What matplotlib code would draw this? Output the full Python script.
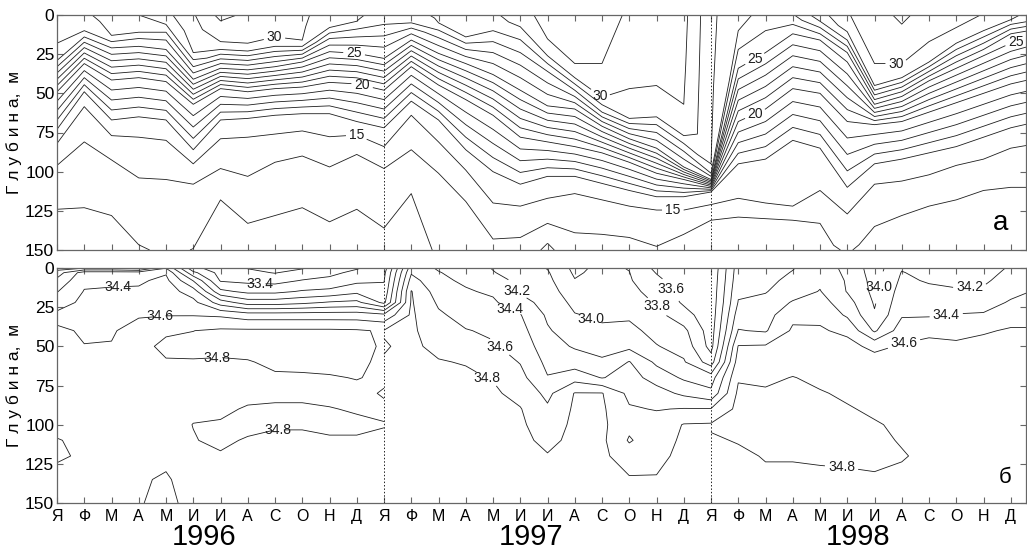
import numpy as np
import matplotlib
matplotlib.use('Agg')
import matplotlib.pyplot as plt
from matplotlib import font_manager

narrow = 'Liberation Sans Narrow'
have_narrow = any(f.name == narrow for f in font_manager.fontManager.ttflist)
plt.rcParams['font.family'] = ['Liberation Sans', 'DejaVu Sans']
text_family = [narrow, 'Liberation Sans'] if have_narrow else ['Liberation Sans']

month_letters = ['Я', 'Ф', 'М', 'А', 'М', 'И', 'И', 'А', 'С', 'О', 'Н', 'Д']
years = ['1996', '1997', '1998']

# ---- panel a: temperature, read as isotherm depths / node values per month ----
months = list(range(37))   # 0 = Jan 1996 ... 36 = Jan 1999
temp_surface = [27.0, 26.8, 27.5, 28.0, 28.7, 29.9, 31.3, 30.8, 30.7, 30.15, 29.6, 29.2, 28.5,
                28.6, 29.2, 29.4, 29.8, 30.6, 31.4, 31.6, 31.3, 30.9, 30.8, 30.3, 28.2,
                27.3, 26.7, 26.9, 28.6, 29.9, 30.8, 31.1, 30.8, 30.4, 29.95, 29.2, 28.6]
u1_depth = [6, 3, 5, 5, 6, 12, 4, 9, 7, 8, 4, 2, 3, 2, 2, 8, 5, 4, 16, 32, 33, 25, 25, 30, 50,
            10, 5, 3, 4, 8, 31, 7, 17, 8, 3, 3, 3]
u1_temp = [26.7, 26.6, 27.3, 27.6, 28.0, 29.5, 30.98, 30.4, 30.4, 30.1, 29.3, 29.1, 28.3,
           28.4, 29.1, 29.3, 29.6, 30.3, 30.98, 30.98, 30.98, 30.5, 30.4, 30.15, 28.1,
           27.0, 26.5, 26.5, 28.0, 29.5, 30.0, 30.98, 30.0, 30.0, 29.8, 29.0, 28.0]
u2_depth = [12, 6, 13, 11, 11, 24, 17, 18, 14, 16, 8, 4, 6, 5, 5, 14, 10, 7.5, 26, 40, 52.5, 47,
            45, 57, 95, 16, 10, 6, 8, 16, 45, 31, 30, 18, 10, 6, 6]
u2_temp = [26.4, 26.3, 27.0, 27.0, 27.0, 29.0, 30.0, 30.0, 30.0, 30.0, 29.0, 29.0, 28.0,
           28.0, 29.0, 29.0, 29.0, 30.0, 30.0, 30.0, 30.0, 30.0, 30.0, 30.0, 28.0,
           26.5, 26.0, 26.0, 27.0, 28.0, 29.0, 30.0, 29.0, 29.0, 29.0, 28.0, 27.0]
u3_depth = [18, 10, 17, 15, 16, 33, 22, 23, 20, 20, 15, 14, 17, 10, 12, 22, 24, 24, 36, 48, 62,
            66, 65, 77, 101, 22, 16, 9, 12, 24, 51, 40, 36, 26, 18, 12, 9]
u3_temp = [26.0, 26.0, 26.0, 26.0, 26.0, 27.0, 29.0, 29.0, 29.0, 29.0, 27.0, 27.0, 26.5,
           26.5, 27.5, 27.0, 27.0, 28.0, 28.0, 28.0, 28.0, 29.0, 29.0, 29.0, 27.0,
           26.0, 25.5, 25.5, 26.0, 26.0, 27.0, 29.0, 27.0, 27.0, 27.0, 26.0, 26.0]
iso25_depth = [29, 14, 21, 20, 22, 41, 34, 35, 33, 30, 23.4, 24.5, 27.7, 16, 24.5, 31, 38, 48,
               58, 60, 71, 79, 85, 97, 105, 34, 24, 12, 16, 30, 57, 52, 42, 34, 26, 18, 13]
iso20_depth = [49, 31, 41.5, 40, 42.5, 57, 47, 49, 47, 46, 43, 44, 48, 33, 44.7, 54, 64, 78,
               81, 84, 88, 94, 101, 105, 109.5, 68, 60, 47, 50, 68, 70, 68, 62, 56, 50, 44, 40]
iso16_depth = [73, 49, 67, 65, 67, 86, 67, 66, 64, 63, 63, 68, 72, 55, 67, 86, 100, 108, 103,
               103, 107.5, 112, 116, 116, 113, 95, 92, 80, 85, 110, 95, 92, 88, 84, 78, 72, 68]
iso15_depth = [82, 58.5, 77, 78, 80, 95, 79, 78, 76, 74, 77.7, 76.6, 84, 64, 81, 99, 120, 122,
               117, 114, 118, 122, 124.5, 124.5, 121, 117, 120, 122, 112, 127, 108, 106, 102,
               96, 92, 85, 82]
deep1_depth = [96, 81, 92.5, 104, 105, 108, 98, 103, 94, 90, 97, 89, 98, 86, 101, 119, 143, 142,
               133, 139, 140, 142, 146, 140, 131, 129, 130, 131, 133, 145, 135, 128, 122, 118,
               112, 110, 110]
deep1_temp = [14.0, 14.0, 14.0, 14.0, 14.0, 14.0, 14.0, 14.0, 14.0, 14.0, 14.0, 14.0, 14.0,
              14.0, 14.0, 14.0, 14.0, 14.0, 14.0, 14.0, 14.0, 14.0, 14.05, 14.0, 14.0,
              14.0, 14.0, 14.0, 14.0, 14.2, 14.0, 14.0, 14.0, 14.0, 14.0, 14.0, 14.0]
deep2_depth = [124, 123, 128, 140, 130, 130, 118, 133, 128, 123, 132, 124, 136, 114, 130, 140,
               147, 147, 146, 145, 146, 147, 148, 146, 142, 142, 142, 142, 146, 148, 145, 142,
               140, 138, 135, 135, 135]
deep2_temp = [13.0, 13.0, 13.0, 13.2, 13.5, 13.4, 13.0, 13.0, 13.0, 13.0, 13.0, 13.0, 13.0,
              13.0, 13.5, 13.6, 13.9, 13.6, 12.99, 13.5, 13.7, 13.8, 13.99, 13.8, 13.75,
              13.7, 13.7, 13.7, 13.85, 14.15, 13.8, 13.7, 13.6, 13.6, 13.5, 13.5, 13.5]
temp_150m = [12.3, 12.3, 12.4, 12.9, 13.15, 12.98, 12.5, 12.6, 12.5, 12.4, 12.6, 12.4, 12.6,
             12.0, 13.3, 13.4, 13.7, 13.3, 12.9, 13.3, 13.4, 13.5, 13.95, 13.6, 13.6,
             13.6, 13.6, 13.6, 13.7, 14.1, 13.6, 13.5, 13.4, 13.4, 13.3, 13.3, 13.3]

temp_levels = list(range(13, 32))
temp_labeled = [15, 20, 25, 30]
temp_label_pos = [(7.93, 10.6), (19.9, 52), (30.8, 29.8), (10.9, 25.5), (25.7, 30.8),
                  (35.15, 15.5), (11.2, 44.7), (25.8, 70), (11.0, 76.6), (22.6, 125.5)]

# ---- panel б: salinity at fixed depths; each year drawn on its own grid ----
sal_depth = [0, 3, 8, 15, 22, 30, 40, 50, 60, 70, 80, 90, 100, 110, 120, 135, 150]
sal_month = [0, 1, 2, 3, 4, 5, 6, 7, 8, 9, 10, 11, 12,
             12, 13, 14, 15, 16, 17, 18, 19, 20, 21, 22, 23, 24,
             24, 25, 26, 27, 28, 29, 30, 31, 32, 33, 34, 35, 36]
sal_0m = [33.7, 33.79, 33.79, 33.7, 34.19, 33.45, 33.3, 33.19, 33.1, 33.18, 33.3, 33.38, 33.5,
          33.5, 34.5, 34.38, 34.3, 34.19, 34.1, 33.99, 33.75, 33.85, 33.79, 33.55, 33.45, 33.42,
          33.42, 34.1, 34.12, 34.19, 34.3, 34.15, 33.9, 34.18, 34.12, 34.1, 34.12, 34.22, 34.3]
sal_3m = [33.9, 34.3, 34.3, 34.3, 34.38, 33.65, 33.33, 33.25, 33.19, 33.28, 33.35, 33.45, 33.55,
          33.55, 34.58, 34.41, 34.33, 34.21, 34.12, 34.02, 33.77, 33.86, 33.805, 33.59, 33.46, 33.43,
          33.43, 34.11, 34.13, 34.21, 34.32, 34.16, 33.91, 34.21, 34.14, 34.12, 34.14, 34.24, 34.33]
sal_8m = [34.05, 34.36, 34.37, 34.37, 34.45, 33.99, 33.38, 33.35, 33.33, 33.41, 33.45, 33.55, 33.59,
          33.59, 34.68, 34.44, 34.37, 34.28, 34.15, 34.05, 33.81, 33.87, 33.82, 33.65, 33.48, 33.44,
          33.44, 34.13, 34.15, 34.25, 34.36, 34.18, 33.93, 34.24, 34.18, 34.16, 34.17, 34.28, 34.38]
sal_15m = [34.19, 34.41, 34.42, 34.43, 34.5, 34.3, 33.65, 33.55, 33.55, 33.62, 33.65, 33.75, 33.65,
           33.65, 34.81, 34.5, 34.42, 34.37, 34.18, 34.09, 33.88, 33.9, 33.86, 33.72, 33.52, 33.45,
           33.45, 34.17, 34.19, 34.3, 34.41, 34.19, 33.95, 34.29, 34.25, 34.22, 34.23, 34.35, 34.42]
sal_22m = [34.3, 34.45, 34.47, 34.5, 34.55, 34.46, 34.1, 33.9, 33.9, 33.95, 34.02, 34.05, 33.75,
           33.75, 34.82, 34.57, 34.47, 34.43, 34.27, 34.13, 33.95, 33.93, 33.92, 33.78, 33.57, 33.46,
           33.46, 34.21, 34.25, 34.42, 34.48, 34.28, 33.98, 34.33, 34.3, 34.3, 34.32, 34.42, 34.48]
sal_30m = [34.45, 34.5, 34.53, 34.58, 34.59, 34.59, 34.57, 34.5, 34.5, 34.5, 34.5, 34.5, 34.45,
           34.45, 34.83, 34.63, 34.53, 34.49, 34.41, 34.17, 34.01, 33.97, 33.97, 33.86, 33.68, 33.47,
           33.47, 34.3, 34.32, 34.55, 34.56, 34.37, 34.02, 34.38, 34.38, 34.41, 34.42, 34.52, 34.56]
sal_40m = [34.68, 34.55, 34.58, 34.68, 34.78, 34.798, 34.83, 34.83, 34.83, 34.83, 34.83, 34.82, 34.78,
           34.81, 34.83, 34.7, 34.61, 34.57, 34.47, 34.22, 34.1, 34.03, 34.05, 33.94, 33.85, 33.5,
           33.5, 34.41, 34.38, 34.63, 34.62, 34.56, 34.17, 34.5, 34.55, 34.55, 34.58, 34.62, 34.61]
sal_50m = [34.72, 34.61, 34.61, 34.76, 34.83, 34.84, 34.85, 34.86, 34.86, 34.86, 34.86, 34.85, 34.78,
           34.79, 34.83, 34.76, 34.7, 34.62, 34.53, 34.28, 34.18, 34.13, 34.15, 34.01, 33.93, 33.53,
           33.53, 34.61, 34.62, 34.68, 34.68, 34.66, 34.55, 34.62, 34.66, 34.63, 34.66, 34.66, 34.65]
sal_60m = [34.74, 34.7, 34.7, 34.77, 34.79, 34.79, 34.78, 34.79, 34.83, 34.84, 34.84, 34.83, 34.77,
           34.81, 34.83, 34.81, 34.79, 34.7, 34.59, 34.35, 34.3, 34.23, 34.41, 34.16, 34.02, 33.7,
           33.7, 34.7, 34.7, 34.74, 34.73, 34.7, 34.68, 34.68, 34.7, 34.68, 34.69, 34.68, 34.68]
sal_70m = [34.75, 34.74, 34.74, 34.76, 34.77, 34.76, 34.76, 34.76, 34.78, 34.78, 34.79, 34.805, 34.78,
           34.82, 34.84, 34.83, 34.83, 34.79, 34.66, 34.41, 34.52, 34.39, 34.48, 34.32, 34.17, 34.1,
           34.1, 34.78, 34.77, 34.805, 34.77, 34.74, 34.73, 34.72, 34.72, 34.7, 34.7, 34.7, 34.7]
sal_80m = [34.76, 34.76, 34.75, 34.75, 34.75, 34.76, 34.76, 34.77, 34.77, 34.77, 34.77, 34.77, 34.81,
           34.83, 34.84, 34.84, 34.84, 34.83, 34.74, 34.55, 34.81, 34.81, 34.55, 34.48, 34.36, 34.25,
           34.25, 34.84, 34.82, 34.84, 34.81, 34.78, 34.76, 34.75, 34.74, 34.72, 34.72, 34.72, 34.72]
sal_90m = [34.76, 34.76, 34.76, 34.75, 34.75, 34.78, 34.78, 34.81, 34.82, 34.82, 34.805, 34.79, 34.78,
           34.83, 34.84, 34.84, 34.84, 34.84, 34.81, 34.63, 34.83, 34.83, 34.62, 34.59, 34.61, 34.61,
           34.61, 34.85, 34.85, 34.85, 34.84, 34.81, 34.78, 34.77, 34.75, 34.74, 34.73, 34.73, 34.73]
sal_100m = [34.77, 34.77, 34.76, 34.76, 34.76, 34.802, 34.81, 34.83, 34.81, 34.81, 34.82, 34.82, 34.805,
            34.83, 34.84, 34.84, 34.84, 34.84, 34.83, 34.7, 34.84, 34.84, 34.65, 34.68, 34.81, 34.82,
            34.82, 34.84, 34.85, 34.85, 34.85, 34.84, 34.81, 34.78, 34.76, 34.75, 34.74, 34.74, 34.74]
sal_110m = [34.805, 34.78, 34.77, 34.77, 34.77, 34.795, 34.82, 34.79, 34.78, 34.78, 34.79, 34.79, 34.78,
            34.83, 34.84, 34.84, 34.84, 34.84, 34.84, 34.76, 34.84, 34.84, 34.58, 34.72, 34.83, 34.84,
            34.78, 34.81, 34.84, 34.84, 34.84, 34.85, 34.83, 34.79, 34.76, 34.75, 34.75, 34.75, 34.75]
sal_120m = [34.82, 34.78, 34.78, 34.78, 34.78, 34.78, 34.79, 34.77, 34.77, 34.77, 34.77, 34.77, 34.77,
            34.83, 34.84, 34.84, 34.84, 34.84, 34.84, 34.81, 34.84, 34.84, 34.7, 34.76, 34.84, 34.84,
            34.76, 34.77, 34.81, 34.81, 34.82, 34.83, 34.84, 34.81, 34.77, 34.75, 34.75, 34.75, 34.75]
sal_135m = [34.75, 34.76, 34.78, 34.79, 34.81, 34.76, 34.76, 34.76, 34.76, 34.76, 34.76, 34.76, 34.76,
            34.83, 34.84, 34.84, 34.84, 34.84, 34.84, 34.83, 34.84, 34.84, 34.82, 34.81, 34.84, 34.84,
            34.75, 34.75, 34.77, 34.77, 34.77, 34.77, 34.78, 34.77, 34.76, 34.75, 34.75, 34.75, 34.75]
sal_150m = [34.72, 34.74, 34.77, 34.79, 34.84, 34.75, 34.75, 34.75, 34.75, 34.75, 34.75, 34.75, 34.75,
            34.83, 34.84, 34.84, 34.84, 34.84, 34.84, 34.84, 34.84, 34.84, 34.84, 34.84, 34.84, 34.84,
            34.74, 34.74, 34.75, 34.75, 34.75, 34.75, 34.75, 34.75, 34.75, 34.74, 34.74, 34.74, 34.74]

sal_levels = [33.2, 33.4, 33.6, 33.8, 34.0, 34.2, 34.4, 34.6, 34.8]
sal_labeled = [[33.4, 34.4, 34.6, 34.8],
               [33.6, 33.8, 34.0, 34.2, 34.4, 34.6, 34.8],
               [34.0, 34.2, 34.4, 34.6, 34.8]]
sal_label_pos = [
    [(2.25, 11.7), (7.45, 7.5), (3.78, 31.9), (5.86, 57.4), (8.12, 103)],
    [(16.93, 12.8), (16.62, 26.6), (16.32, 46.8), (15.77, 70.2), (19.56, 35.1),
     (22.56, 12.8), (21.94, 27.7)],
    [(30.3, 12.8), (33.5, 12.8), (32.65, 33), (31.06, 46.8), (28.8, 125.5)],
]

# ---- figure ----
W, H = 1027, 549
fig = plt.figure(figsize=(W / 100, H / 100), dpi=100)
line_col = '#1e1e1e'


def axes_px(left, top, right, bottom):
    return fig.add_axes([left / W, 1 - bottom / H, (right - left) / W, (bottom - top) / H])


def draw_field(ax, x, y, z, levels, labeled, positions, fmt):
    # unlabeled and labeled isolines are separate sets so clabel can cut gaps cleanly
    plain = [lv for lv in levels if lv not in labeled]
    kw = dict(colors=line_col, linewidths=0.6)
    if plain:
        ax.contour(x, y, z, levels=plain, **kw)
    cs = ax.contour(x, y, z, levels=labeled, **kw)
    texts = ax.clabel(cs, manual=positions, inline=True, fmt=fmt, fontsize=10,
                      inline_spacing=3)
    for t in texts:
        t.set_rotation(0)


ax1 = axes_px(57, 15, 1026, 250)
ax2 = axes_px(57, 268, 1026, 503)

t_depth = np.array([np.zeros(37), u1_depth, u2_depth, u3_depth, iso25_depth, iso20_depth,
                    iso16_depth, iso15_depth, deep1_depth, deep2_depth, np.full(37, 150.0)])
t_value = np.array([temp_surface, u1_temp, u2_temp, u3_temp, np.full(37, 25.0),
                    np.full(37, 20.0), np.full(37, 16.0), np.full(37, 15.0),
                    deep1_temp, deep2_temp, temp_150m])
t_month = np.broadcast_to(np.array(months, dtype=float), t_depth.shape)
draw_field(ax1, t_month, t_depth, t_value, temp_levels, temp_labeled, temp_label_pos, '%d')

sal = np.array([sal_0m, sal_3m, sal_8m, sal_15m, sal_22m, sal_30m, sal_40m, sal_50m, sal_60m,
                sal_70m, sal_80m, sal_90m, sal_100m, sal_110m, sal_120m, sal_135m, sal_150m])
sal_x = np.array(sal_month, dtype=float)
for k in range(3):
    cols = slice(13 * k, 13 * k + 13)
    draw_field(ax2, sal_x[cols], sal_depth, sal[:, cols], sal_levels, sal_labeled[k],
               sal_label_pos[k], '%.1f')

xmax = (1026 - 57) / 27.25
for ax in (ax1, ax2):
    ax.set_xlim(0, xmax)
    ax.set_ylim(150, 0)
    ax.set_yticks([0, 25, 50, 75, 100, 125, 150])
    ax.set_xticks(range(36))
    ax.tick_params(direction='in', top=True, right=True, length=4, width=0.8,
                   color='#666666', labelsize=12.5, pad=2)
    ax.tick_params(axis='x', pad=4, labelsize=11.5)
    for lab in ax.get_yticklabels() + ax.get_xticklabels():
        lab.set_family(text_family)
    for sp in ax.spines.values():
        sp.set_color('#666666')
        sp.set_linewidth(0.9)
    for xv in (12, 24):
        ax.axvline(xv, color='#222222', lw=0.7, ls=(0, (1.5, 2)))

ax1.set_xticklabels([])
ax2.set_xticklabels(month_letters * 3, family=text_family)

for k, yr in enumerate(years):
    fig.text((57 + 27.25 * (5.4 + 12 * k)) / W, 1 - 545 / H, yr, ha='center', va='baseline',
             fontsize=21, family=text_family)

for yc in (132, 385):
    fig.text(14 / W, 1 - yc / H, 'Г л у б и н а,  м', rotation=90, ha='center', va='center',
             fontsize=12.5, family=text_family)

ax1.text(34.64, 133, 'а', fontsize=20, ha='center', va='center')
ax2.text(34.8, 134, 'б', fontsize=16, ha='center', va='center')

fig.savefig('out.png', dpi=100)
